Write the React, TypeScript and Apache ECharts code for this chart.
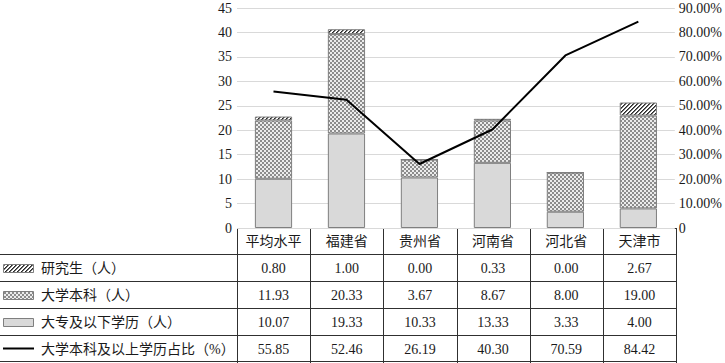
import React, { useEffect, useRef } from 'react';
import * as echarts from 'echarts';

const categories = ['平均水平', '福建省', '贵州省', '河南省', '河北省', '天津市'];
const graduate = [0.8, 1.0, 0.0, 0.33, 0.0, 2.67];
const bachelor = [11.93, 20.33, 3.67, 8.67, 8.0, 19.0];
const college = [10.07, 19.33, 10.33, 13.33, 3.33, 4.0];
const ratio = [55.85, 52.46, 26.19, 40.3, 70.59, 84.42];
const rowLabels = ['研究生（人）', '大学本科（人）', '大专及以下学历（人）', '大学本科及以上学历占比（%）'];
const leftAxis = { min: 0, max: 45, interval: 5 };
const rightAxis = { min: 0, max: 90, interval: 10 };

const W = 725;
const H = 363;
const GRID_L = 237;
const GRID_R = 676;
const GRID_T = 8;
const GRID_B = 228;
const HEADER_B = 254;
const ROW_H = 27;
const FONT = "'Liberation Serif', 'Noto Sans CJK SC', serif";
const LINE_C = '#303030';
const TEXT_C = '#1a1a1a';

function makePattern(w: number, h: number, fn: (x: number, y: number) => string) {
  const c = document.createElement('canvas');
  c.width = w;
  c.height = h;
  const ctx = c.getContext('2d')!;
  for (let y = 0; y < h; y++) {
    for (let x = 0; x < w; x++) {
      ctx.fillStyle = fn(x, y);
      ctx.fillRect(x, y, 1, 1);
    }
  }
  return { image: c, repeat: 'repeat', imageWidth: w, imageHeight: h } as any;
}

export default function App() {
  const ref = useRef<HTMLDivElement>(null);
  useEffect(() => {
    if (!ref.current) return;
    const chart = echarts.init(ref.current, null, { renderer: 'svg', width: W, height: H });

    const hatch = makePattern(4, 4, (x, y) => {
      const k = (x + y) % 4;
      return k === 0 ? '#2a2a2a' : k === 1 ? '#707070' : '#ffffff';
    });
    const checker = makePattern(4, 4, (x, y) => {
      const k = (Math.floor(x / 2) + Math.floor(y / 2)) % 2;
      return k === 0 ? '#8c8c8c' : '#ececec';
    });
    const solid = '#d9d9d9';

    const n = categories.length;
    const colW = (GRID_R - GRID_L) / n;
    const graphics: any[] = [];
    const hline = (x1: number, x2: number, y: number) =>
      graphics.push({
        type: 'line',
        silent: true,
        shape: { x1, y1: Math.round(y) + 0.5, x2, y2: Math.round(y) + 0.5 },
        style: { stroke: LINE_C, lineWidth: 1 },
      });
    const vline = (x: number, y1: number, y2: number) =>
      graphics.push({
        type: 'line',
        silent: true,
        shape: { x1: Math.round(x) + 0.5, y1, x2: Math.round(x) + 0.5, y2 },
        style: { stroke: LINE_C, lineWidth: 1 },
      });
    const text = (t: string, x: number, y: number, align: string) =>
      graphics.push({
        type: 'text',
        silent: true,
        style: {
          text: t,
          x,
          y,
          align,
          verticalAlign: 'middle',
          textAlign: align,
          textVerticalAlign: 'middle',
          font: `14px ${FONT}`,
          fill: TEXT_C,
        },
      });

    // header row
    hline(GRID_L, GRID_R, GRID_B);
    categories.forEach((c, i) => text(c, GRID_L + colW * (i + 0.5), (GRID_B + HEADER_B) / 2 + 0.5, 'center'));
    // row lines
    for (let r = 0; r <= rowLabels.length; r++) {
      hline(0, GRID_R, HEADER_B + r * ROW_H - (r === rowLabels.length ? 1 : 0));
    }
    for (let i = 0; i <= n; i++) vline(GRID_L + colW * i, GRID_B, H);

    const rowsData = [graduate, bachelor, college, ratio];
    const fills = [hatch, checker, solid];
    rowLabels.forEach((lab, r) => {
      const cy = HEADER_B + r * ROW_H + ROW_H / 2;
      if (r < 3) {
        graphics.push({
          type: 'rect',
          silent: true,
          shape: { x: 3.5, y: Math.round(cy - 4) + 0.5, width: 30, height: 8 },
          style: { fill: fills[r], stroke: '#7f7f7f', lineWidth: 1 },
        });
      } else {
        graphics.push({
          type: 'line',
          silent: true,
          shape: { x1: 3, y1: cy, x2: 34, y2: cy },
          style: { stroke: '#000', lineWidth: 2 },
        });
      }
      text(lab, 41, cy + 0.5, 'left');
      rowsData[r].forEach((v, i) => text(v.toFixed(2), GRID_L + colW * (i + 0.5), cy + 0.5, 'center'));
    });

    const barStyle = (fill: any) => ({ color: fill, borderColor: '#7f7f7f', borderWidth: 1 });

    chart.setOption({
      animation: false,
      grid: { left: GRID_L, right: W - GRID_R, top: GRID_T, bottom: H - GRID_B, containLabel: false },
      xAxis: {
        type: 'category',
        data: categories,
        axisLine: { show: false },
        axisTick: { show: false },
        axisLabel: { show: false },
      },
      yAxis: [
        {
          type: 'value',
          ...leftAxis,
          axisLine: { show: false },
          axisTick: { show: false },
          axisLabel: { margin: 5, fontSize: 14, fontFamily: FONT, color: TEXT_C },
          splitLine: { lineStyle: { color: '#d9d9d9', width: 1 } },
        },
        {
          type: 'value',
          ...rightAxis,
          position: 'right',
          axisLine: { show: false },
          axisTick: { show: false },
          splitLine: { show: false },
          axisLabel: {
            margin: 4,
            fontSize: 14,
            fontFamily: FONT,
            color: TEXT_C,
            formatter: (v: number) => (v === 0 ? '0' : v.toFixed(2) + '%'),
          },
        },
      ],
      series: [
        {
          name: '大专及以下学历（人）',
          type: 'bar',
          stack: 'a',
          barWidth: '51%',
          data: college,
          itemStyle: barStyle(solid),
          emphasis: { disabled: true },
        },
        {
          name: '大学本科（人）',
          type: 'bar',
          stack: 'a',
          data: bachelor,
          itemStyle: barStyle(checker),
          emphasis: { disabled: true },
        },
        {
          name: '研究生（人）',
          type: 'bar',
          stack: 'a',
          data: graduate,
          itemStyle: barStyle(hatch),
          emphasis: { disabled: true },
        },
        {
          name: '大学本科及以上学历占比（%）',
          type: 'line',
          yAxisIndex: 1,
          data: ratio,
          symbol: 'none',
          z: 5,
          lineStyle: { color: '#000', width: 2 },
          emphasis: { disabled: true },
        },
      ],
      graphic: { elements: graphics },
    });
    return () => chart.dispose();
  }, []);
  return (
    <div
      ref={ref}
      style={{ position: 'fixed', left: 0, top: 0, width: W, height: H, background: '#fff' }}
    />
  );
}
